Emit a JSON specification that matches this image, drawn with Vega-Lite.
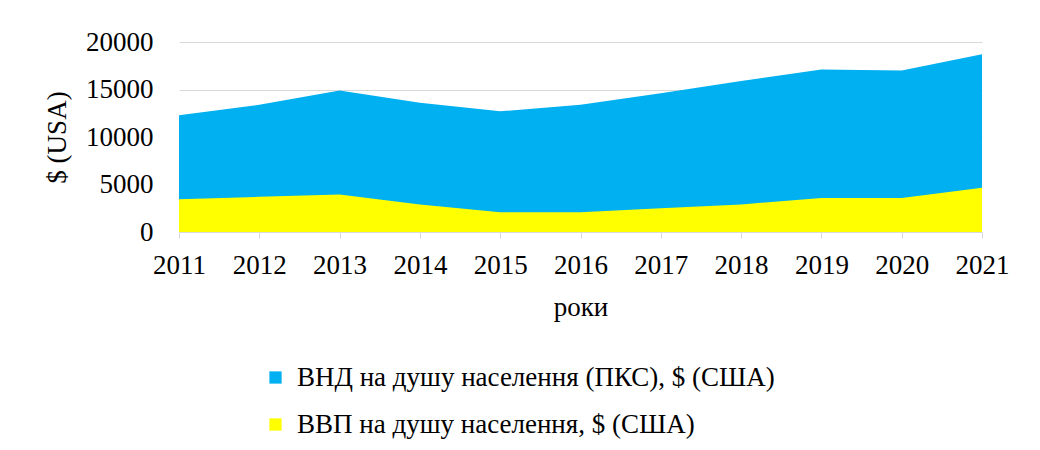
{
  "$schema": "https://vega.github.io/schema/vega-lite/v6.json",
  "width": 803,
  "height": 190,
  "autosize": {"type": "none"},
  "padding": {"left": 179, "top": 42, "right": 58, "bottom": 218},
  "background": "white",
  "config": {
    "font": "Liberation Serif",
    "view": {"stroke": null},
    "axis": {"labelFont": "Liberation Serif", "titleFont": "Liberation Serif", "labelColor": "#000000", "titleColor": "#000000", "titleFontWeight": "normal"},
    "legend": {"labelFont": "Liberation Serif"}
  },
  "data": {
    "values": [
      {"year": "2011", "series": "ВНД на душу населення (ПКС), $ (США)", "value": 12300},
      {"year": "2012", "series": "ВНД на душу населення (ПКС), $ (США)", "value": 13400},
      {"year": "2013", "series": "ВНД на душу населення (ПКС), $ (США)", "value": 14900},
      {"year": "2014", "series": "ВНД на душу населення (ПКС), $ (США)", "value": 13600},
      {"year": "2015", "series": "ВНД на душу населення (ПКС), $ (США)", "value": 12700},
      {"year": "2016", "series": "ВНД на душу населення (ПКС), $ (США)", "value": 13400},
      {"year": "2017", "series": "ВНД на душу населення (ПКС), $ (США)", "value": 14600},
      {"year": "2018", "series": "ВНД на душу населення (ПКС), $ (США)", "value": 15900},
      {"year": "2019", "series": "ВНД на душу населення (ПКС), $ (США)", "value": 17100},
      {"year": "2020", "series": "ВНД на душу населення (ПКС), $ (США)", "value": 17000},
      {"year": "2021", "series": "ВНД на душу населення (ПКС), $ (США)", "value": 18700},
      {"year": "2011", "series": "ВВП на душу населення, $ (США)", "value": 3440},
      {"year": "2012", "series": "ВВП на душу населення, $ (США)", "value": 3700},
      {"year": "2013", "series": "ВВП на душу населення, $ (США)", "value": 3940},
      {"year": "2014", "series": "ВВП на душу населення, $ (США)", "value": 2900},
      {"year": "2015", "series": "ВВП на душу населення, $ (США)", "value": 2070},
      {"year": "2016", "series": "ВВП на душу населення, $ (США)", "value": 2070},
      {"year": "2017", "series": "ВВП на душу населення, $ (США)", "value": 2500},
      {"year": "2018", "series": "ВВП на душу населення, $ (США)", "value": 2900},
      {"year": "2019", "series": "ВВП на душу населення, $ (США)", "value": 3580},
      {"year": "2020", "series": "ВВП на душу населення, $ (США)", "value": 3580},
      {"year": "2021", "series": "ВВП на душу населення, $ (США)", "value": 4670}
    ]
  },
  "encoding": {
    "x": {
      "field": "year", "type": "ordinal",
      "scale": {"type": "point", "padding": 0},
      "axis": {
        "title": "роки", "titleFontSize": 27, "titlePadding": 16,
        "labelFontSize": 27, "labelAngle": 0, "labelPadding": 14,
        "domainColor": "#d9d9d9", "tickColor": "#d9d9d9", "tickSize": 6,
        "grid": false
      }
    },
    "y": {
      "field": "value", "type": "quantitative",
      "scale": {"domain": [0, 20000], "nice": false},
      "axis": {
        "title": "$ (USA)", "titleFontSize": 27, "titlePadding": 14,
        "labelFontSize": 27, "labelPadding": 26, "values": [0, 5000, 10000, 15000, 20000],
        "format": "d", "domain": false, "ticks": false, "tickSize": 0,
        "gridColor": "#d9d9d9", "gridWidth": 1
      }
    },
    "color": {
      "field": "series", "type": "nominal",
      "scale": {
        "domain": ["ВНД на душу населення (ПКС), $ (США)", "ВВП на душу населення, $ (США)"],
        "range": ["#00B0F0", "#FFFF00"]
      },
      "legend": {
        "orient": "none", "legendX": 83, "legendY": 322, "direction": "vertical",
        "title": null, "symbolType": "square", "symbolSize": 150, "symbolStrokeWidth": 0,
        "labelFontSize": 27, "labelColor": "#000000", "labelOffset": 8, "rowPadding": 19,
        "labelLimit": 700
      }
    }
  },
  "layer": [
    {
      "transform": [{"filter": "datum.series === 'ВНД на душу населення (ПКС), $ (США)'"}],
      "mark": {"type": "area", "opacity": 1}
    },
    {
      "transform": [{"filter": "datum.series === 'ВВП на душу населення, $ (США)'"}],
      "mark": {"type": "area", "opacity": 1}
    }
  ]
}
